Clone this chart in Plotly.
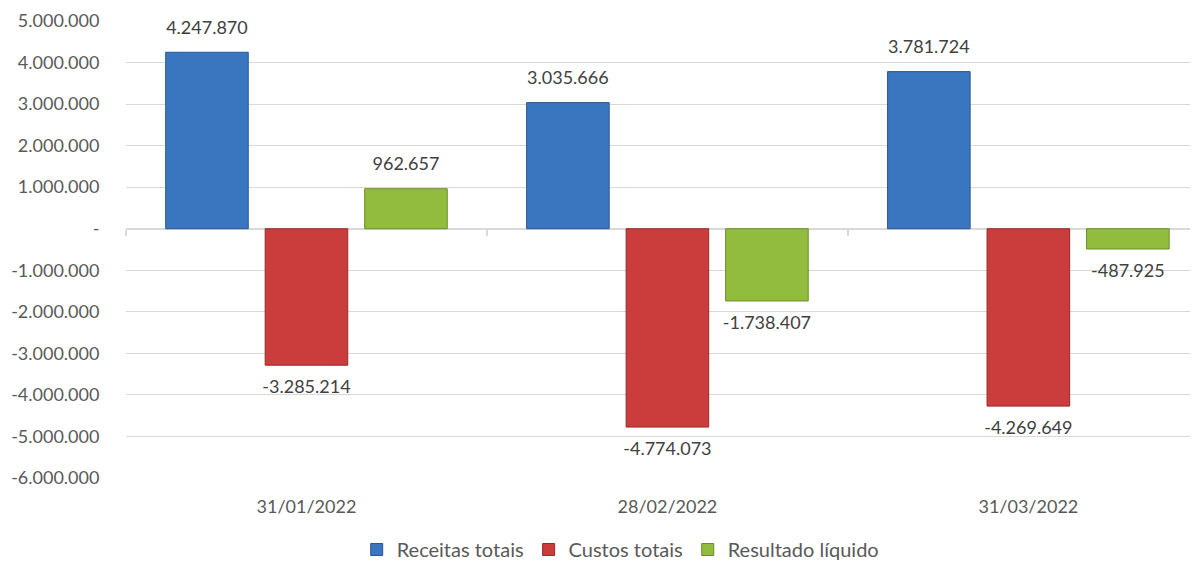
import plotly.graph_objects as go

# Dados
datas = ["31/01/2022", "28/02/2022", "31/03/2022"]
receitas = [4247870, 3035666, 3781724]
custos = [-3285214, -4774073, -4269649]
resultado = [962657, -1738407, -487925]

series = ["Receitas totais", "Custos totais", "Resultado líquido"]
y_ticks = [5000000, 4000000, 3000000, 2000000, 1000000, 0,
           -1000000, -2000000, -3000000, -4000000, -5000000, -6000000]

CORES = ["#3a75c0", "#cb3c3c", "#92bc3e"]
BORDA = ["#2b5894", "#962b2b", "#6c8d2a"]
FONTE = "Lato, sans-serif"
GAP = 0.173
Y_MIN, Y_MAX = -6000000, 5000000
X_RANGE = [-0.5, 2.47]


def fmt(v: int) -> str:
    if v == 0:
        return "-"
    return f"{v:,}".replace(",", ".")


fig = go.Figure()
for nome, valores, cor, borda in zip(series, [receitas, custos, resultado], CORES, BORDA):
    fig.add_trace(go.Bar(
        name=nome, x=datas, y=valores,
        marker=dict(color=cor, line=dict(color=borda, width=1)),
        hoverinfo="x+y",
    ))

# rótulos de dados (afastados das barras como no Excel)
for nome, valores in zip(series, [receitas, custos, resultado]):
    fig.add_trace(go.Scatter(
        x=datas, y=valores, mode="markers+text",
        text=[fmt(v) for v in valores],
        textposition=["top center" if v >= 0 else "bottom center" for v in valores],
        textfont=dict(family=FONTE, size=18, color="#404040"),
        marker=dict(size=21, color="rgba(0,0,0,0)"),
        showlegend=False, hoverinfo="skip", cliponaxis=False,
    ))

# eixo horizontal na linha do zero, com marcas entre as categorias
fig.add_trace(go.Scatter(x=datas, y=[None] * len(datas), xaxis="x2",
                         mode="none", showlegend=False, hoverinfo="skip"))

fig.update_layout(
    width=1190, height=561,
    paper_bgcolor="white", plot_bgcolor="white",
    margin=dict(l=118, r=0, t=13, b=91),
    barmode="group", bargap=GAP, bargroupgap=0.17,
    scattermode="group", scattergap=GAP,
    font=dict(family=FONTE, size=18, color="#595959"),
    xaxis=dict(range=X_RANGE, showgrid=False, showline=False,
               automargin=False,
               tickfont=dict(size=18, color="#595959"),
               ticks="outside", ticklen=12, tickcolor="rgba(0,0,0,0)"),
    xaxis2=dict(type="category", categoryarray=datas, range=X_RANGE,
                overlaying="x", anchor="free", side="bottom",
                position=(0 - Y_MIN) / (Y_MAX - Y_MIN),
                showgrid=False, showticklabels=False, layer="below traces",
                showline=True, linecolor="#d9d9d9", linewidth=2,
                tickson="boundaries", ticks="outside", ticklen=6,
                tickwidth=2, tickcolor="#d9d9d9", automargin=False),
    yaxis=dict(range=[Y_MIN, Y_MAX], tickvals=y_ticks,
               ticktext=[fmt(v) for v in y_ticks],
               automargin=False,
               showgrid=True, gridcolor="#d9d9d9", gridwidth=1,
               zeroline=False,
               tickfont=dict(size=18, color="#595959"),
               ticks="outside", ticklen=22, tickcolor="rgba(0,0,0,0)"),
    legend=dict(orientation="h", x=0.461, xanchor="center",
                yref="container", y=0.0, yanchor="bottom",
                font=dict(size=20, color="#595959"),
                itemwidth=30, traceorder="normal"),
)

fig.write_html("out.html")
